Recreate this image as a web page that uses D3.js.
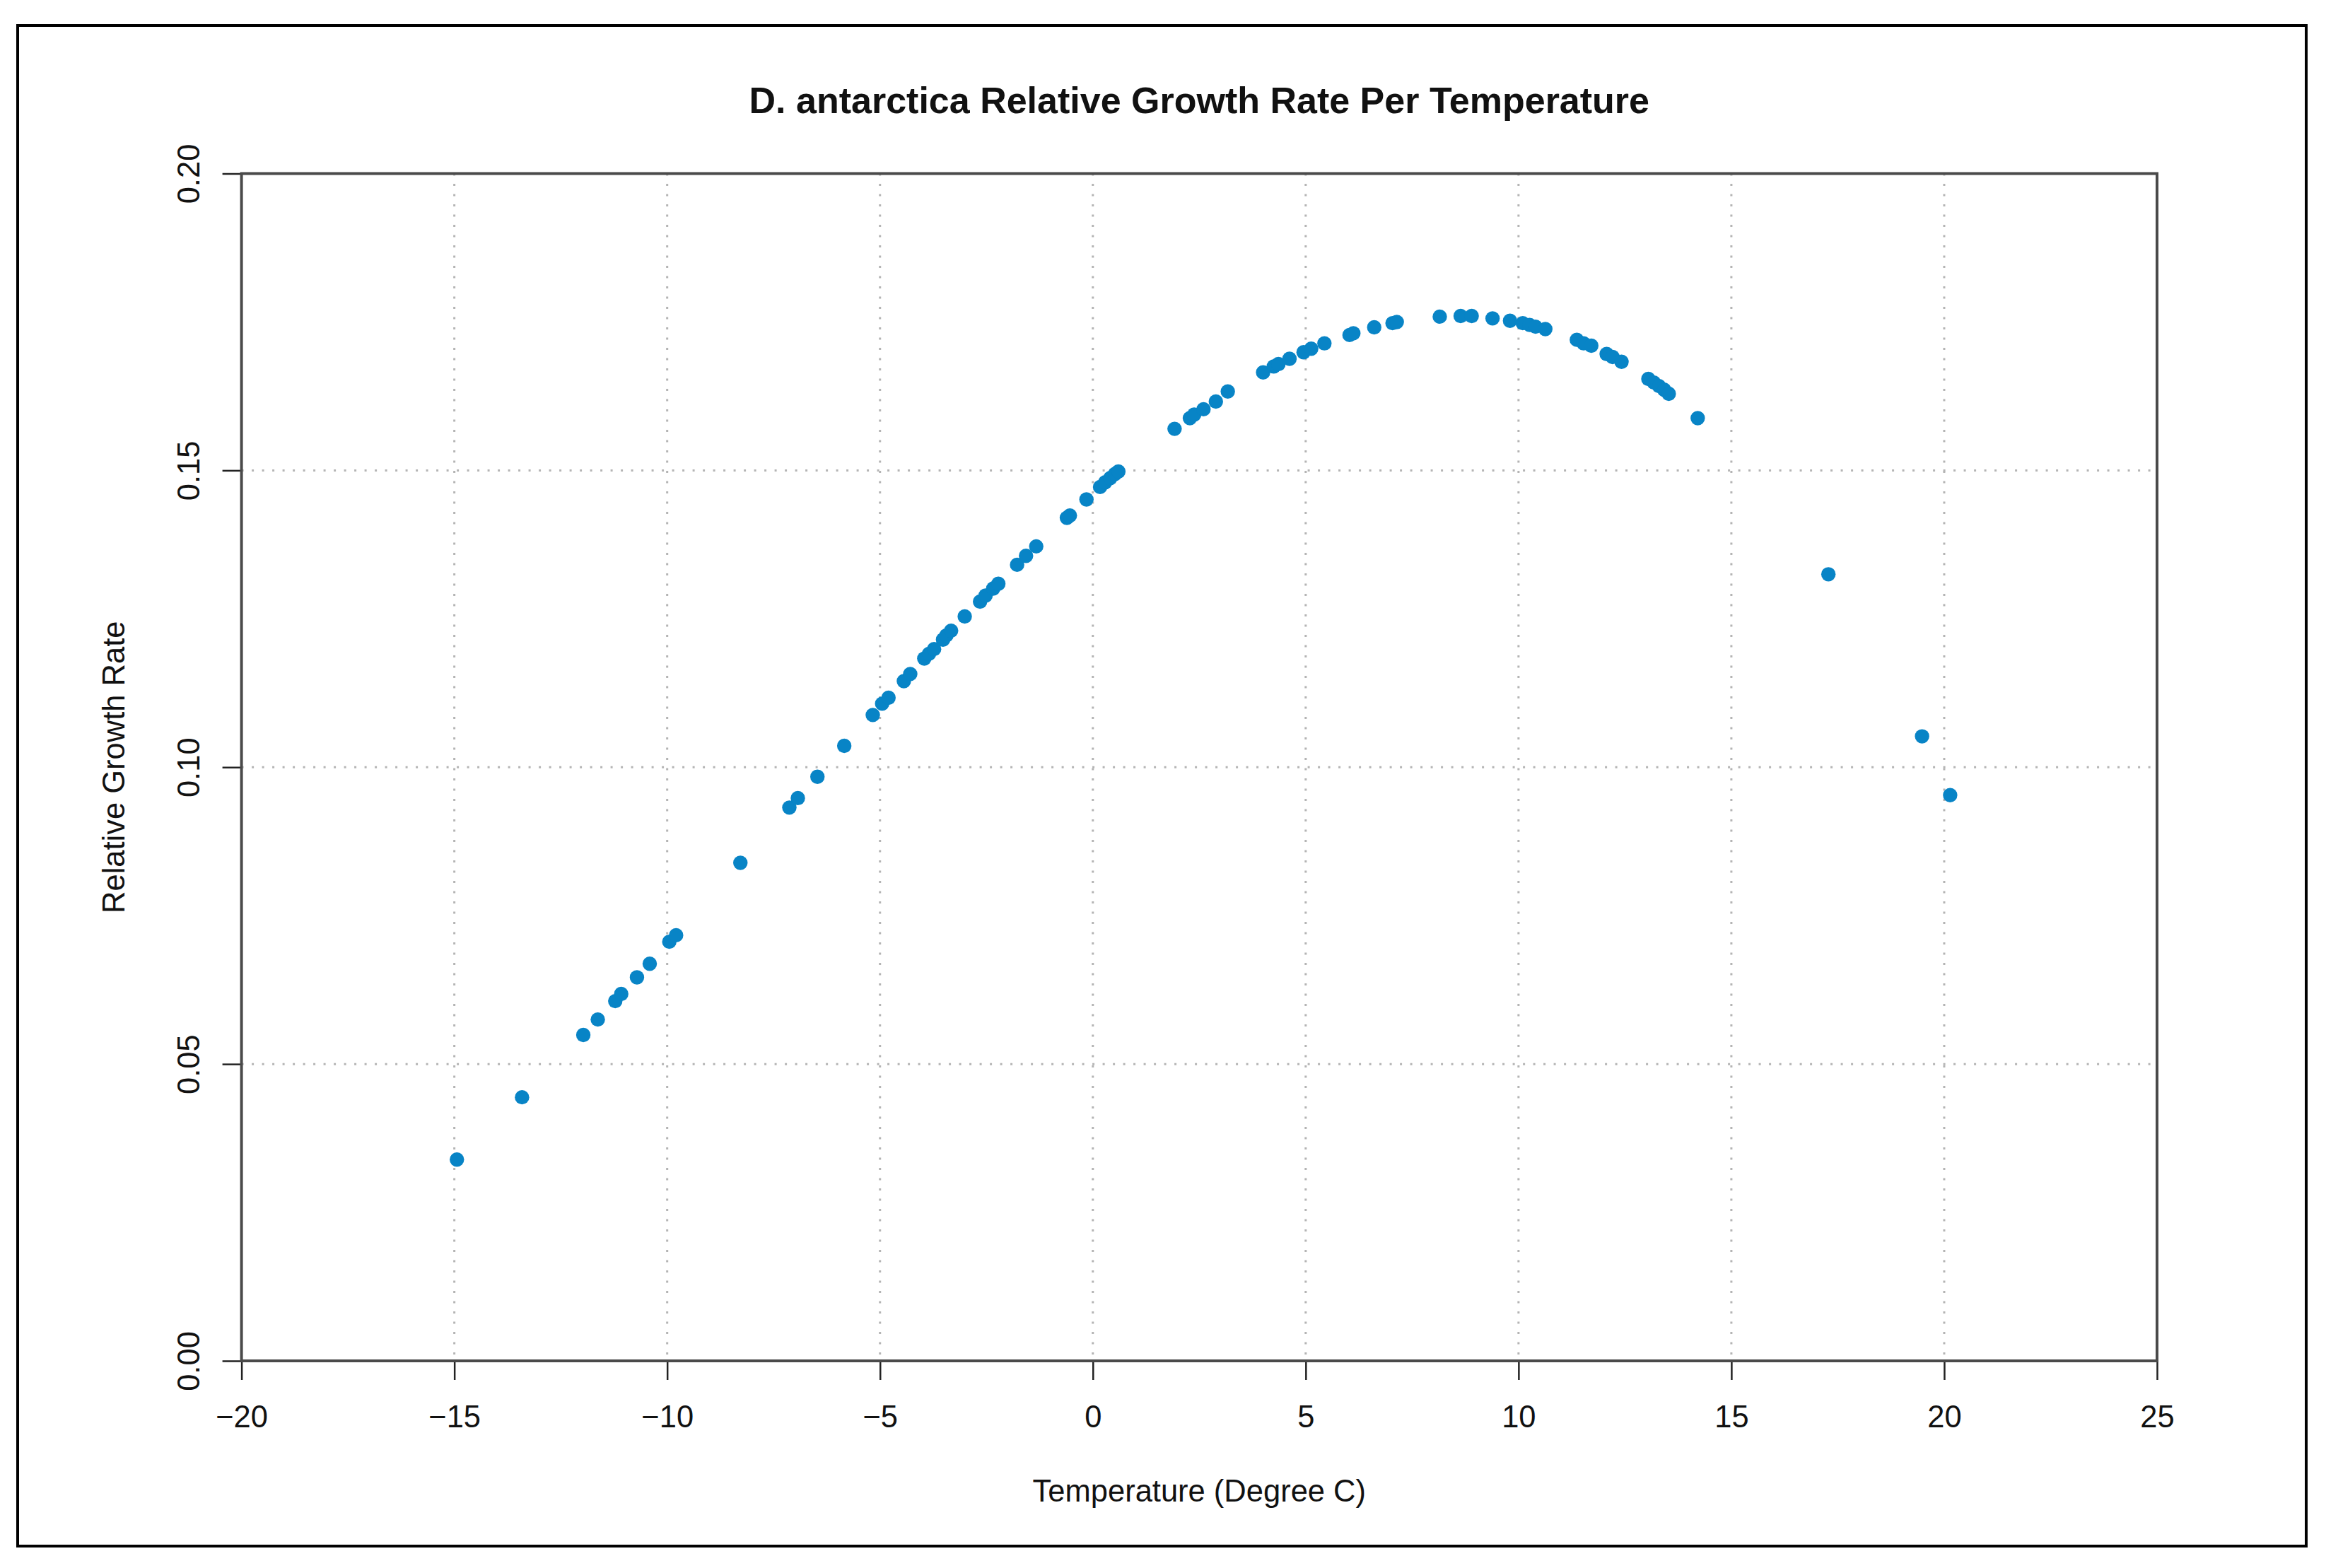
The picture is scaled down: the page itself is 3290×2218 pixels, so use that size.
<!DOCTYPE html>
<html>
<head>
<meta charset="utf-8">
<script src="https://cdn.jsdelivr.net/npm/d3@7"></script>
<style>
  html, body { margin: 0; padding: 0; background: #fff; }
  text { font-family: "Liberation Sans", Arial, Helvetica, sans-serif; fill: #111; }
</style>
</head>
<body>
<div id="chart"></div>
<script>
// --- Data ---
const temps = [
  -14.94, -13.41, -11.97, -11.63, -11.22, -11.08, -10.71, -10.41, -9.95, -9.79,
  -8.28, -7.13, -6.93, -6.47, -5.84, -5.17, -4.95, -4.80, -4.44, -4.29,
  -3.96, -3.85, -3.73, -3.52, -3.44, -3.33, -3.01, -2.65, -2.52, -2.34,
  -2.22, -1.78, -1.57, -1.33, -0.61, -0.54, -0.15, 0.17, 0.29, 0.41,
  0.52, 0.60, 1.92, 2.28, 2.38, 2.60, 2.89, 3.17, 4.00, 4.25,
  4.36, 4.62, 4.95, 5.13, 5.44, 6.03, 6.12, 6.61, 7.04, 7.14,
  8.15, 8.64, 8.90, 9.39, 9.80, 10.10, 10.26, 10.40, 10.63, 11.37,
  11.53, 11.71, 12.07, 12.21, 12.42, 13.05, 13.18, 13.30, 13.42, 13.53,
  14.21, 17.28, 19.48, 20.14
];
const rates = [
  0.0339, 0.0444, 0.0549, 0.0575, 0.0606, 0.0618, 0.0646, 0.0669, 0.0706, 0.0717,
  0.0839, 0.0932, 0.0948, 0.0984, 0.1036, 0.1088, 0.1107, 0.1117, 0.1145, 0.1157,
  0.1183, 0.1191, 0.1199, 0.1215, 0.1222, 0.1230, 0.1254, 0.1279, 0.1289, 0.1301,
  0.1309, 0.1341, 0.1356, 0.1372, 0.1420, 0.1424, 0.1451, 0.1472, 0.1480, 0.1487,
  0.1494, 0.1498, 0.1570, 0.1588, 0.1594, 0.1603, 0.1616, 0.1633, 0.1665, 0.1675,
  0.1679, 0.1688, 0.1699, 0.1705, 0.1714, 0.1728, 0.1731, 0.1741, 0.1748, 0.1750,
  0.1759, 0.1760, 0.1760, 0.1756, 0.1752, 0.1748, 0.1745, 0.1742, 0.1738, 0.1720,
  0.1714, 0.1710, 0.1696, 0.1691, 0.1683, 0.1654, 0.1648, 0.1642, 0.1636, 0.1629,
  0.1588, 0.1325, 0.1052, 0.0953
];
const xTicks = [-20, -15, -10, -5, 0, 5, 10, 15, 20, 25];
const yTicks = [0, 0.05, 0.10, 0.15, 0.20];

const title = "D. antarctica Relative Growth Rate Per Temperature";
const xTitle = "Temperature (Degree C)";
const yTitle = "Relative Growth Rate";

// --- Layout ---
const W = 3290, H = 2218;
const plot = { left: 341.6, right: 3051, top: 245.5, bottom: 1925 };

const svg = d3.select('#chart').append('svg')
  .attr('width', W).attr('height', H)
  .attr('viewBox', `0 0 ${W} ${H}`);

svg.append('rect').attr('width', W).attr('height', H).attr('fill', '#fff');

// outer frame
svg.append('rect')
  .attr('x', 25).attr('y', 36).attr('width', 3237).attr('height', 2151)
  .attr('fill', 'none').attr('stroke', '#000').attr('stroke-width', 4);

const x = d3.scaleLinear().domain([-20, 25]).range([plot.left, plot.right]);
const y = d3.scaleLinear().domain([0, 0.2]).range([plot.bottom, plot.top]);

// grid (dotted)
const grid = svg.append('g').attr('stroke', '#b4b4b4').attr('stroke-width', 3)
  .attr('stroke-dasharray', '3,11.5');
grid.selectAll('line.vx')
  .data(xTicks.slice(1, -1))
  .join('line')
  .attr('x1', d => x(d)).attr('x2', d => x(d))
  .attr('y1', plot.top).attr('y2', plot.bottom);
grid.selectAll('line.hy')
  .data(yTicks.slice(1, -1))
  .join('line')
  .attr('x1', plot.left).attr('x2', plot.right)
  .attr('y1', d => y(d)).attr('y2', d => y(d));

// axes
const fmtX = d => d < 0 ? '\u2212' + Math.abs(d) : String(d);
const xAxis = svg.append('g')
  .attr('transform', `translate(0,${plot.bottom})`)
  .call(d3.axisBottom(x).tickValues(xTicks).tickFormat(fmtX).tickSize(27).tickPadding(36));
xAxis.select('.domain').remove();
xAxis.selectAll('.tick line').attr('stroke', '#222').attr('stroke-width', 2.5);
xAxis.selectAll('.tick text').attr('font-size', 43.5).attr('fill', '#111')
  .style('font-family', '"Liberation Sans", Arial, sans-serif');

const yAxis = svg.append('g')
  .attr('transform', `translate(${plot.left},0)`)
  .call(d3.axisLeft(y).tickValues(yTicks).tickFormat(d3.format('.2f')).tickSize(27));
yAxis.select('.domain').remove();
yAxis.selectAll('.tick line').attr('stroke', '#222').attr('stroke-width', 2.5);
yAxis.selectAll('.tick text')
  .attr('transform', 'rotate(-90)')
  .attr('x', 0).attr('y', -60).attr('dy', 0)
  .attr('text-anchor', 'middle')
  .attr('font-size', 43.5).attr('fill', '#111')
  .style('font-family', '"Liberation Sans", Arial, sans-serif');

// plot box
svg.append('rect')
  .attr('x', plot.left).attr('y', plot.top)
  .attr('width', plot.right - plot.left).attr('height', plot.bottom - plot.top)
  .attr('fill', 'none').attr('stroke', '#4a4a4a').attr('stroke-width', 4);

// points
svg.append('g').selectAll('circle')
  .data(temps.map((t, i) => ({ t, r: rates[i] })))
  .join('circle')
  .attr('cx', d => x(d.t))
  .attr('cy', d => y(d.r))
  .attr('r', 10.2)
  .attr('fill', '#0884c6');

// titles
svg.append('text')
  .attr('x', (plot.left + plot.right) / 2).attr('y', 160)
  .attr('text-anchor', 'middle')
  .attr('font-size', 52).attr('font-weight', 'bold')
  .text(title);

svg.append('text')
  .attr('x', (plot.left + plot.right) / 2).attr('y', 2124)
  .attr('text-anchor', 'middle')
  .attr('font-size', 43.5)
  .text(xTitle);

svg.append('text')
  .attr('transform', `translate(176,${(plot.top + plot.bottom) / 2}) rotate(-90)`)
  .attr('text-anchor', 'middle')
  .attr('font-size', 43.5)
  .text(yTitle);
</script>
</body>
</html>
